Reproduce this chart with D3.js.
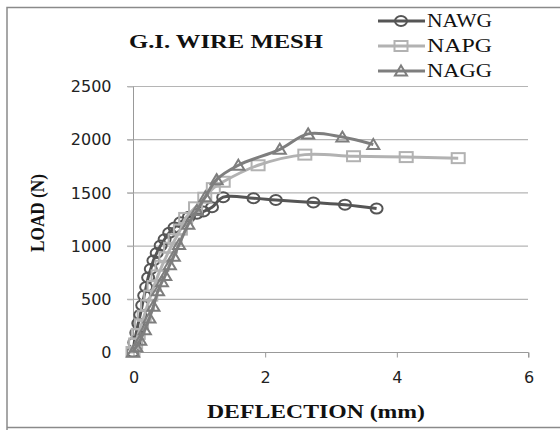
<!DOCTYPE html>
<html><head><meta charset="utf-8">
<script src="https://cdn.jsdelivr.net/npm/d3@7"></script>
<style>body{margin:0;background:#fff}svg{display:block}</style>
</head><body>
<script>
// ---- data ----
const seriesNames = ["NAWG", "NAPG", "NAGG"];
const nawgX = [0, 0.02, 0.05, 0.08, 0.11, 0.14, 0.17, 0.2, 0.23, 0.27, 0.31, 0.36, 0.42, 0.48, 0.55, 0.63, 0.72, 0.85, 0.97, 1.07, 1.2, 1.37, 1.83, 2.17, 2.74, 3.22, 3.70];
const nawgY = [0, 90, 180, 270, 350, 440, 530, 610, 700, 780, 860, 930, 1000, 1060, 1120, 1170, 1220, 1270, 1300, 1320, 1360, 1455, 1445, 1428, 1405, 1385, 1348];
const napgX = [0, 0.04, 0.08, 0.13, 0.17, 0.22, 0.27, 0.32, 0.38, 0.44, 0.5, 0.57, 0.64, 0.72, 0.8, 0.95, 1.09, 1.22, 1.37, 1.9, 2.61, 3.35, 4.15, 4.94];
const napgY = [0, 80, 170, 260, 340, 440, 530, 620, 720, 810, 890, 980, 1060, 1150, 1260, 1360, 1450, 1540, 1600, 1755, 1855, 1840, 1832, 1822];
const naggX = [0, 0.05, 0.11, 0.18, 0.25, 0.31, 0.38, 0.44, 0.49, 0.56, 0.62, 0.7, 0.84, 0.97, 1.1, 1.27, 1.6, 2.23, 2.66, 3.18, 3.65];
const naggY = [0, 50, 110, 210, 320, 430, 575, 660, 720, 820, 900, 1010, 1200, 1330, 1460, 1620, 1755, 1905, 2050, 2020, 1950];
const xTicks = [0, 2, 4, 6];
const yTicks = [0, 500, 1000, 1500, 2000, 2500];
const titleText = "G.I. WIRE MESH";
const xTitle = "DEFLECTION (mm)";
const yTitle = "LOAD (N)";

const colors = ["#555555", "#b2b2b2", "#7e7e7e"];
const markers = ["circle", "square", "triangle"];

const W = 560, H = 430;
const svg = d3.select("body").append("svg").attr("width", W).attr("height", H);

// frame
svg.append("path").attr("d", "M7,600 V7.5 H600 M7,427.5 H600")
  .attr("fill", "none").attr("stroke", "#8a8a8a").attr("stroke-width", 1.5);

const x = d3.scaleLinear().domain([0, 6]).range([133, 528]);
const y = d3.scaleLinear().domain([0, 2500]).range([352, 86]);

// gridlines
svg.append("g").selectAll("line").data(yTicks.filter(d => d > 0)).join("line")
  .attr("x1", 127).attr("x2", 528).attr("y1", d => y(d) + 0.5).attr("y2", d => y(d) + 0.5)
  .attr("stroke", "#b5b5b5").attr("stroke-width", 1.2);

// y axis
const yAxis = d3.axisLeft(y).tickValues(yTicks).tickSize(6).tickPadding(16).tickFormat(d3.format("d"));
const gy = svg.append("g").attr("transform", "translate(133.5,0.5)").call(yAxis);
gy.select(".domain").attr("stroke", "#999").attr("d", `M-6,${y(0)}H0V${y(2500)}`);
gy.selectAll(".tick line").attr("stroke", "#b5b5b5");
gy.selectAll(".tick text").attr("font-family", "DejaVu Sans").attr("font-size", 16).attr("fill", "#222");

// x axis
const xAxis = d3.axisBottom(x).tickValues(xTicks).tickSize(5).tickPadding(14).tickFormat(d3.format("d"));
const gx = svg.append("g").attr("transform", `translate(0.5,${y(0) + 0.5})`).call(xAxis);
gx.select(".domain").attr("stroke", "#999").attr("d", `M${x(0)},0H${x(6)}V5`);
gx.selectAll(".tick line").attr("stroke", "#999");
gx.selectAll(".tick text").attr("font-family", "DejaVu Sans").attr("font-size", 16).attr("fill", "#222");

// series
const data = [
  nawgX.map((d, i) => [d, nawgY[i]]),
  napgX.map((d, i) => [d, napgY[i]]),
  naggX.map((d, i) => [d, naggY[i]])
];
const line = d3.line().x(d => x(d[0])).y(d => y(d[1])).curve(d3.curveCatmullRom.alpha(0.5));

function drawMarker(g, type, color) {
  if (type === "circle") {
    g.append("ellipse").attr("rx", 6).attr("ry", 5).attr("fill", "none").attr("stroke", color).attr("stroke-width", 2);
  } else if (type === "square") {
    g.append("rect").attr("x", -6.5).attr("y", -5).attr("width", 13).attr("height", 10).attr("fill", "none").attr("stroke", color).attr("stroke-width", 2);
  } else {
    g.append("path").attr("d", "M0,-5.5L6,4.5L-6,4.5Z").attr("fill", "none").attr("stroke", color).attr("stroke-width", 2);
  }
}

data.forEach((pts, si) => {
  const g = svg.append("g");
  g.append("path").attr("d", line(pts)).attr("fill", "none").attr("stroke", colors[si]).attr("stroke-width", 3);
  pts.forEach(p => {
    const mg = g.append("g").attr("transform", `translate(${x(p[0])},${y(p[1])})`);
    drawMarker(mg, markers[si], colors[si]);
  });
});

// titles
svg.append("text").attr("x", 129).attr("y", 48).text(titleText)
  .attr("font-family", "Liberation Serif").attr("font-weight", "bold").attr("font-size", 19)
  .attr("textLength", 194).attr("lengthAdjust", "spacingAndGlyphs").attr("fill", "#111");

svg.append("text").attr("x", 207).attr("y", 418).text(xTitle)
  .attr("font-family", "Liberation Serif").attr("font-weight", "bold").attr("font-size", 18)
  .attr("textLength", 218).attr("lengthAdjust", "spacingAndGlyphs").attr("fill", "#111");

svg.append("text").attr("transform", "translate(44,252) rotate(-90)").text(yTitle)
  .attr("font-family", "Liberation Serif").attr("font-weight", "bold").attr("font-size", 18)
  .attr("textLength", 78).attr("lengthAdjust", "spacingAndGlyphs").attr("fill", "#111");

// legend
const legendY = [21, 46, 71];
seriesNames.forEach((name, i) => {
  const g = svg.append("g").attr("transform", `translate(0,${legendY[i]})`);
  g.append("line").attr("x1", 378).attr("x2", 425).attr("stroke", colors[i]).attr("stroke-width", 3);
  const mg = g.append("g").attr("transform", "translate(401,0)");
  drawMarker(mg, markers[i], colors[i]);
  g.append("text").attr("x", 427).attr("y", 6).text(name)
    .attr("font-family", "Liberation Serif").attr("font-size", 18)
    .attr("textLength", 65).attr("lengthAdjust", "spacingAndGlyphs").attr("fill", "#111");
});
</script>
</body></html>
